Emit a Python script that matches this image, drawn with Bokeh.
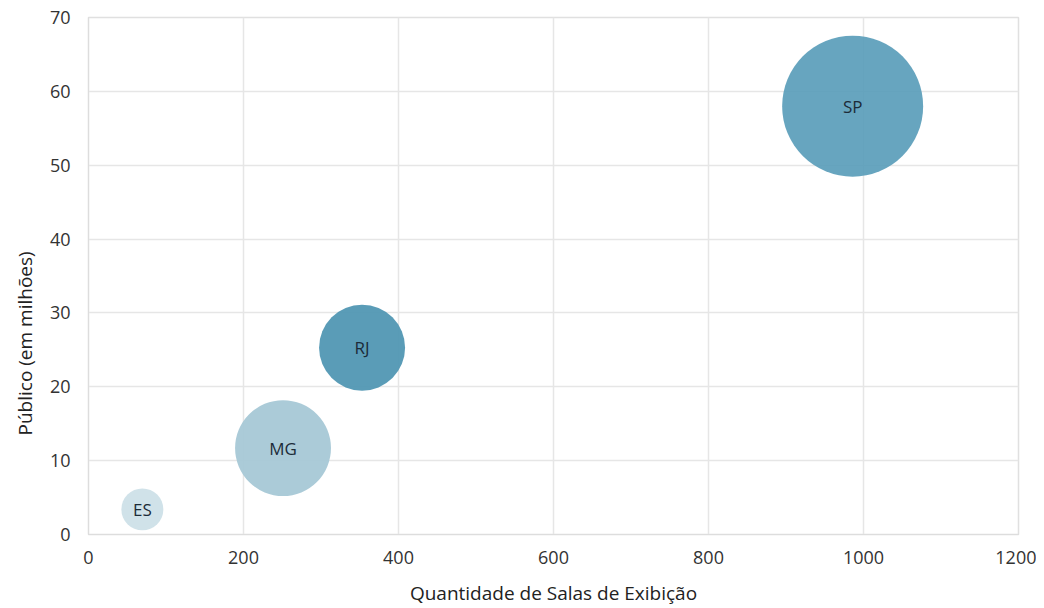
import numpy as np
from bokeh.plotting import figure
from bokeh.models import ColumnDataSource, FixedTicker, Title
from bokeh.core.properties import value
from bokeh.embed import file_html
from bokeh.resources import INLINE

estados = ["ES", "MG", "RJ", "SP"]
salas = [69.5, 251, 353, 986]
publico = [3.4, 11.7, 25.3, 58.0]
bolha = [4.4, 23.0, 18.5, 49.7]
cores = ["#cde0e8", "#a6c8d6", "#5197b3", "#5a9dba"]
alphas = [0.95, 0.95, 0.95, 0.92]

FONT = "Open Sans"
diam = [20 * np.sqrt(b) for b in bolha]
src = ColumnDataSource(dict(x=salas, y=publico, s=diam, c=cores, a=alphas, t=estados))

p = figure(width=1036, height=608, output_backend="svg", toolbar_location=None,
           x_range=(0, 1200), y_range=(0, 70),
           min_border_left=86, min_border_right=18, min_border_top=17, min_border_bottom=74)

p.scatter("x", "y", size="s", fill_color="c", fill_alpha="a", line_color=None, source=src)
p.text("x", "y", text="t", source=src, text_align="center", text_baseline="middle",
       text_font=value(FONT), text_font_size="17px", text_color="#1c2b38")

p.xaxis.ticker = FixedTicker(ticks=[0, 200, 400, 600, 800, 1000, 1200])
p.yaxis.ticker = FixedTicker(ticks=[0, 10, 20, 30, 40, 50, 60, 70])
for ax in (p.xaxis[0], p.yaxis[0]):
    ax.axis_line_color = "#dddddd"
    ax.major_tick_line_color = None
    ax.minor_tick_line_color = None
    ax.major_label_text_font = FONT
    ax.major_label_text_font_size = "18px"
    ax.major_label_text_color = "#333333"
    ax.axis_label_text_font = FONT
    ax.axis_label_text_font_size = "19px"
    ax.axis_label_text_font_style = "normal"
    ax.axis_label_text_color = "#222222"

p.xaxis.axis_label = "Quantidade de Salas de Exibição"
p.xaxis.major_label_standoff = 10
p.yaxis.major_label_standoff = 12
p.xaxis.axis_label_standoff = 13

ytitle = Title(text="Público (em milhões)", align="left", offset=99,
               text_font=FONT, text_font_size="19px", text_font_style="normal",
               text_color="#222222", standoff=18)
p.add_layout(ytitle, "left")

p.grid.grid_line_color = "#e6e6e6"
p.grid.grid_line_width = 1.5
p.outline_line_color = "#e0e0e0"
p.outline_line_width = 1.5
p.background_fill_color = "white"
p.border_fill_color = "white"

open("out.html", "w").write(file_html(p, INLINE))
